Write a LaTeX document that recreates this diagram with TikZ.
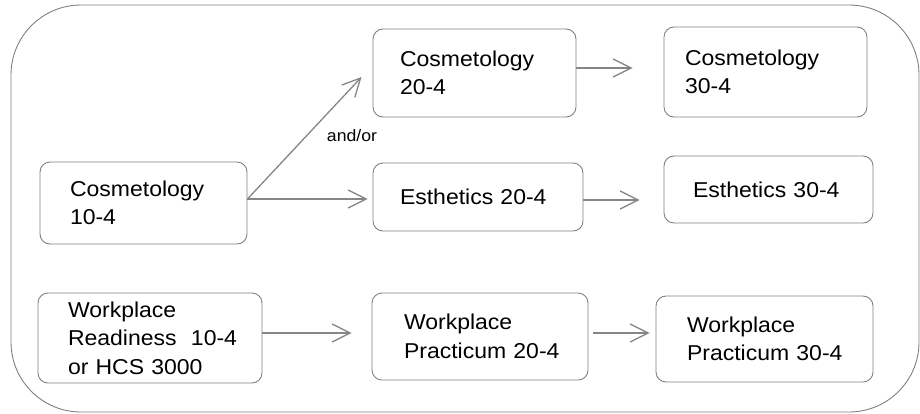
\documentclass[tikz,border=0pt]{standalone}
\usepackage{fontspec}
\setmainfont{Liberation Sans}[FakeStretch=1.07]
\usetikzlibrary{arrows.meta}
\definecolor{boxgray}{RGB}{128,128,128}
\definecolor{arrowgray}{RGB}{134,134,134}

\begin{document}
\begin{tikzpicture}[x=1pt,y=-1pt,
	course/.style={draw=boxgray, line width=0.9pt, rounded corners=10pt, align=left,
		inner xsep=0pt, inner ysep=0pt, font=\fontsize{21.5}{28.5}\selectfont},
	flow/.style={draw=arrowgray, line width=1.3pt, -{Straight Barb[length=18pt,width=18pt]}}]
			\useasboundingbox (0,0) rectangle (920,413);
			\draw[boxgray, line width=0.9pt, rounded corners=70pt] (11,5) rectangle (919,412);

			\node[course, minimum width=207pt, minimum height=82pt, text width=147pt] (cos10) at (143.5,203) {Cosmetology\\\mbox{10-4}};
			\node[course, minimum width=203pt, minimum height=88pt, text width=149pt] (cos20) at (474.5,73) {Cosmetology\\\mbox{20-4}};
			\node[course, minimum width=203pt, minimum height=90pt, text width=161pt] (cos30) at (765.5,72) {Cosmetology\\\mbox{30-4}};
			\node[course, minimum width=210pt, minimum height=68pt, text width=156pt] (est20) at (478,197) {\mbox{Esthetics 20-4}};
			\node[course, minimum width=209pt, minimum height=67pt, text width=151pt] (est30) at (768.5,189.5) {\mbox{Esthetics 30-4}};

			\node[course, minimum width=224pt, minimum height=90pt, text width=164pt] (ready) at (150,338) {Workplace\\\mbox{Readiness~~10-4}\\or HCS 3000};
			\node[course, minimum width=216pt, minimum height=87pt, text width=152pt] (prac20) at (480,336.5) {Workplace\\\mbox{Practicum 20-4}};
			\node[course, minimum width=217pt, minimum height=86pt, text width=155pt] (prac30) at (764.5,339) {Workplace\\\mbox{Practicum 30-4}};

			\node[font=\fontsize{16.5}{18}\selectfont, inner sep=0pt] (andor) at (352,136) {and/or};

			\draw[flow] ([yshift=4pt]cos10.east) -- ([xshift=-11pt,yshift=-4pt]cos20.west);
			\draw[flow, shorten >=5pt] ([yshift=4pt]cos10.east) -- ([yshift=4pt]cos10.east -| est20.west);
			\draw[flow, shorten >=31pt] ([yshift=5pt]cos20.east) -- ([yshift=5pt]cos20.east -| cos30.west);
			\draw[flow, shorten >=24pt] ([yshift=-3pt]est20.east) -- ([yshift=-3pt]est20.east -| est30.west);
			\draw[flow, shorten >=20pt] ([yshift=5pt]ready.east) -- ([yshift=5pt]ready.east -| prac20.west);
			\draw[flow, shorten <=5pt, shorten >=6pt] ([yshift=3.5pt]prac20.east) -- ([yshift=3.5pt]prac20.east -| prac30.west);
		\end{tikzpicture}
\end{document}
